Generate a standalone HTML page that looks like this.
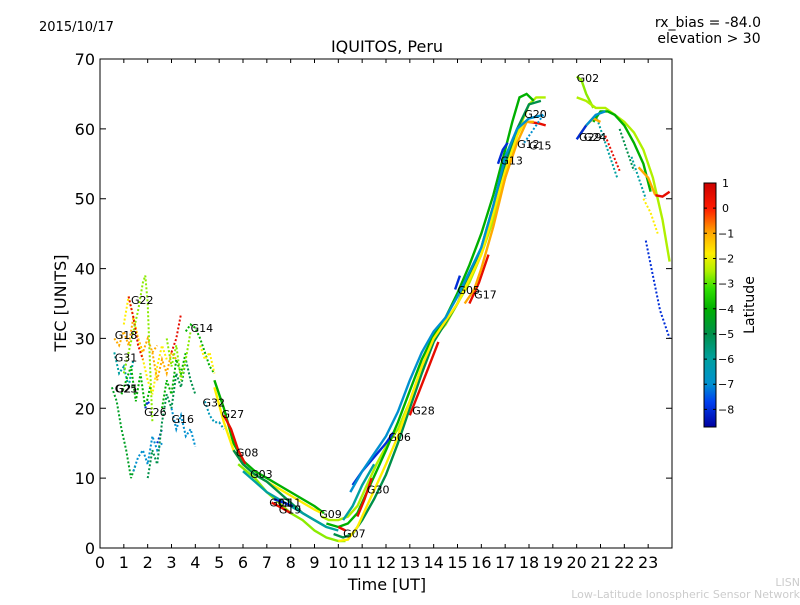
<!DOCTYPE html>
<html><head><meta charset="utf-8"><style>
body{margin:0;background:#fff;}
svg text{font-family:"DejaVu Sans","Liberation Sans",sans-serif;}
</style></head><body>
<svg width="800" height="600" xmlns="http://www.w3.org/2000/svg">
<defs><linearGradient id="jetg" x1="0" y1="0" x2="0" y2="1"></linearGradient></defs>
<text x="39" y="31" font-size="13">2015/10/17</text>
<text x="761" y="27" font-size="14" text-anchor="end">rx_bias = -84.0</text>
<text x="709" y="43" font-size="14" text-anchor="middle">elevation &gt; 30</text>
<text x="387" y="52" font-size="16" text-anchor="middle">IQUITOS, Peru</text>
<g id="plot"></g>
<rect x="100" y="59" width="572" height="489" fill="none" stroke="#000" stroke-width="1"/>
<g id="axes"></g>
<text x="387" y="590" font-size="16" text-anchor="middle">Time [UT]</text>
<text transform="translate(66,303) rotate(-90)" font-size="16" text-anchor="middle">TEC [UNITS]</text>
<rect x="704" y="183" width="12" height="244" fill="url(#jetg)" stroke="#000" stroke-width="1"/>
<g id="cbar"></g>
<text transform="translate(754,305) rotate(-90)" font-size="14" text-anchor="middle">Latitude</text>
<text x="800" y="586" font-size="11" fill="#ccc" text-anchor="end">LISN</text>
<text x="800" y="598" font-size="11" fill="#ccc" text-anchor="end">Low-Latitude Ionospheric Sensor Network</text>
</svg>
<script>
const xTicks=[0,1,2,3,4,5,6,7,8,9,10,11,12,13,14,15,16,17,18,19,20,21,22,23];
const yTicks=[0,10,20,30,40,50,60,70];
const cbarTicks=[1,0,-1,-2,-3,-4,-5,-6,-7,-8];
const trackLat=[-1,-1.8,0.5,-6,-4.5,-2.7,-4,-7,-8,-8,-5,-4,-1,0.5,-7,-2.7,-4,-1.8,-6.5,
 -4,-1.8,0.5,-5,-2.7,-6,0.5,-8,-2.5,-4,-5,-1.8,0.5,0.5,0.5,0.5,0.5,-1,-8,-8,-8,-7,-6,-7,
 -2.7,-6,-2.5,-4,-5,-6,-1,0.5,-8,-7,-1,0.5,-8,-1.8];
const trackNight=[1,1,1,1,1,1,1,1,1,1,1,1,1,1,1,1,1,1,1,
 0,0,0,0,0,0,0,0,0,0,0,0,0,0,0,0,0,0,0,0,0,0,0,1,
 0,1,0,0,1,1,0,1,0,0,0,0,1,1];
const trackT=[
[0.6,0.8,1.0,1.2,1.4,1.6,1.8,2.0,2.2,2.4],
[1.0,1.2,1.4,1.6,1.8,2.0,2.2,2.4,2.6,2.8],
[1.2,1.4,1.6,1.8],
[0.6,0.8,1.0,1.2,1.4],
[0.5,0.7,0.9,1.1,1.3,1.5],
[1.0,1.2,1.4,1.6,1.8,1.9,2.0,2.1,2.2],
[0.9,1.1,1.3,1.5,1.7,1.9,2.1],
[1.4,1.6,1.8,2.0,2.2,2.4,2.6],
[1.9,2.0,2.1],
[2.4,2.6],
[2.0,2.2,2.4,2.6,2.8,3.0,3.2,3.4,3.6,3.8,4.0],
[2.6,2.8,3.0,3.2,3.4,3.6],
[2.2,2.4,2.6,2.8,3.0,3.2],
[3.0,3.2,3.4],
[3.0,3.2,3.4,3.6,3.8,4.0],
[2.8,3.0,3.2,3.4,3.6,3.8],
[3.6,3.8,4.0,4.2,4.4,4.6,4.8],
[4.2,4.4,4.6,4.8],
[4.4,4.6,4.8,5.0,5.2],
[4.8,5.2,5.6,6.0,6.5,7.0,7.5,8.0,8.5,9.0,9.4],
[4.8,5.2,5.6,6.0,6.5,7,7.5,8,8.5,9,9.3],
[5.2,5.5,5.8,6.1],
[5.6,6,6.5,7,7.5,8,8.5,9,9.5],
[5.8,6.5,7,7.5,8,8.5,9,9.5,10,10.3],
[6,6.5,7,7.5,8,8.5,9,9.5,10],
[7.2,7.6,8.0],
[7.3,7.7,8.1],
[9.3,9.6,10,10.4,10.8,11.2,11.6,12,12.5,13,13.5,14,14.5,15,15.5,16,16.5,17,17.4,17.7,18,18.3,18.7],
[9.5,10,10.4,10.8,11.2,11.6,12,12.5,13,13.5,14,14.5,15,15.5,16,16.5,17,17.3,17.6,17.9,18.2],
[9.8,10.2,10.6,11,11.5,12,12.5,13,13.5,14,15,16,16.5,17,17.5,18,18.5],
[10,10.4,10.8,11.2,11.6,12,12.5,13,13.5,14,15,16,16.5,17,17.5,17.8,18.2],
[10.0,10.3],
[10.8,11.1,11.4],
[13,13.4,13.8,14.2],
[15.5,15.9,16.3],
[18,18.4,18.7],
[15.3,15.7,16,16.5,17,17.5,17.9,18.2],
[10.6,11,11.5,12,12.3],
[14.9,15.1],
[16.7,16.9,17.1],
[10.5,11,11.5,12,12.5,13,13.5,14,14.5,15,16,16.5,17,17.5,18,18.6],
[10.2,10.6,11,11.5],
[17.8,18.1,18.4,18.6],
[20,20.2,20.4,20.7],
[20.8,21.1,21.4,21.7],
[20,20.4,20.8,21.2,21.6,22,22.4,22.8,23.2,23.6,23.9],
[20.7,21,21.3,21.6,22,22.4,22.8,23.1],
[21.8,22.1,22.4],
[22.3,22.6,22.9],
[20.1,20.4,20.7,21.0],
[21.2,21.5,21.8],
[20,20.2,20.4],
[20.4,20.8,21.2],
[22.6,23,23.3],
[23.3,23.6,23.9],
[22.9,23.2,23.5,23.9],
[22.8,23.1,23.4]];
const trackV=[
[30,29,31,29,33,30,28,30,28,29],
[32,36,33,30,27,24,22,26,29,27],
[36,33,29,27],
[28,25,26,23,27],
[23,21,17,14,10,12],
[25,28,31,34,38,39,35,26,18],
[22,24,26,21,25,20,23],
[11,13,14,12,16,14,15],
[20,21,20.5],
[15,17],
[10,14,12,18,22,20,25,23,27,24,22],
[20,24,22,27,25,28],
[28,24,27,25,28,27],
[28,30,33.5],
[20,17,19,16,17,14.5],
[30,26,29,24,27,31],
[31,32,31.5,30,28,26,25],
[29,27,28,25],
[21,19,18,18,17],
[24,20,15,12.5,11,10,9,8,7,6,5],
[23,18,14,12,10.5,9.5,8.5,7.5,6.5,5.5,5],
[19,17,14,12],
[14,12,10.5,9.5,8,6.5,5,4,3],
[12,10,8,6.5,5,4,2.5,1.5,1,1],
[11,9.5,8,7,6,5,4,3,2.5],
[6.5,5.8,5],
[7,6.5,6],
[4.5,4,4,4.5,6,9,12,14.5,17,21,26,30,32,35,38,42,47,53,58,61,63.5,64.5,64.5],
[3.5,3,3.5,5,8,11,14,18,22.5,27,30.5,33,36.5,40.5,45,50.5,57,61,64.5,65,64],
[2,1.5,2,4,7,10.5,15,20,25,29.5,35,43,49,55,60,63.5,64],
[1,1.2,3,6,9,12,16,21,26,30,35,42,48,54,59,61,61],
[3,2.5],
[4.5,7,10],
[19,22.5,26,29.5],
[35,38,42],
[61,60.8,60.5],
[35,37,40,46,53,58,61,61],
[9,11,13,15,16.5],
[37,39],
[55,57,58],
[8,11,13.5,16,19.5,24,28,31,33,36,43,49,56,60,61.5,62],
[4,6,9,12],
[58,59.5,61,62],
[67.5,67,65,63],
[62,59,56,53],
[64.5,64,63,63,62,61,59.5,57,53,47,41],
[61,62.5,62.5,62,60.5,58,55,51],
[60,57,54],
[56,53,50],
[59,60.5,61.5,61],
[59,56.5,54],
[58.5,59.5,60.5],
[60.5,62,62.5],
[54.5,53,50.5],
[50.5,50.3,51],
[44,39,34,30],
[50,48,45]];
const labelNames=["G18","G22","G31","G25","G21","G26","G16","G14","G32","G27","G08","G03","G01","G11","G19","G09","G07","G30","G06","G28","G05","G17","G13","G12","G15","G20","G02","G29","G24"];
const labelT=[0.62,1.3,0.62,0.62,0.66,1.85,3.0,3.8,4.3,5.1,5.7,6.3,7.1,7.5,7.5,9.2,10.2,11.2,12.1,13.1,15.0,15.7,16.8,17.5,18.0,17.8,20.0,20.1,20.3];
const labelV=[30.5,35.5,27.3,22.8,22.8,19.5,18.5,31.5,20.8,19.2,13.7,10.6,6.5,6.5,5.5,4.9,2.1,8.4,15.9,19.7,36.9,36.3,55.5,57.8,57.6,62.1,67.3,58.8,58.8];
const X=t=>100+t*572/24, Y=v=>548-v*489/70;
const cmLat=[1,0,-1,-1.8,-2.5,-3.2,-4,-5,-6,-7,-7.7,-8.7];
const cmRGB=[[204,0,0],[255,26,0],[255,170,0],[255,238,0],[176,240,0],[48,224,0],[0,176,0],[0,144,74],[0,160,160],[0,144,208],[0,64,240],[0,0,160]];
const C=lat=>{let i=0;while(i<cmLat.length-2&&lat<cmLat[i+1])i++;
 let f=(cmLat[i]-lat)/(cmLat[i]-cmLat[i+1]);f=Math.max(0,Math.min(1,f));
 const c=cmRGB[i].map((a,k)=>Math.round(a+(cmRGB[i+1][k]-a)*f));return `rgb(${c})`;};
const NS="http://www.w3.org/2000/svg";
const grad=document.getElementById('jetg');
cmLat.forEach((l,i)=>{const s=document.createElementNS(NS,'stop');s.setAttribute('offset',(1-l)/9.7);s.setAttribute('stop-color',`rgb(${cmRGB[i]})`);grad.appendChild(s);});
const plot=document.getElementById('plot');
trackT.forEach((ts,i)=>{
 const p=document.createElementNS(NS,'polyline');
 p.setAttribute('points',ts.map((t,j)=>X(t).toFixed(1)+','+Y(trackV[i][j]).toFixed(1)).join(' '));
 p.setAttribute('fill','none');p.setAttribute('stroke',C(trackLat[i]));
 p.setAttribute('stroke-width',trackNight[i]?2:2.4);
 if(trackNight[i])p.setAttribute('stroke-dasharray','2 2');
 
 
 plot.appendChild(p);});
labelNames.forEach((n,i)=>{
 const t=document.createElementNS(NS,'text');
 t.setAttribute('x',X(labelT[i]));t.setAttribute('y',Y(labelV[i])+4);t.setAttribute('font-size','11');t.textContent=n;
 
 
 plot.appendChild(t);});
const ax=document.getElementById('axes');
xTicks.forEach(v=>{const x=X(v);
 const l=document.createElementNS(NS,'path');l.setAttribute('d',`M${x},548v-4M${x},59v4`);l.setAttribute('stroke','#000');
 
 
 ax.appendChild(l);
 const t=document.createElementNS(NS,'text');t.setAttribute('x',x);t.setAttribute('y',568);t.setAttribute('font-size','16');t.setAttribute('text-anchor','middle');t.textContent=v;
 
 
 ax.appendChild(t);});
yTicks.forEach(v=>{const y=Y(v);
 const l=document.createElementNS(NS,'path');l.setAttribute('d',`M100,${y}h6M672,${y}h-6`);l.setAttribute('stroke','#000');
 
 
 ax.appendChild(l);
 const t=document.createElementNS(NS,'text');t.setAttribute('x',95);t.setAttribute('y',y+6);t.setAttribute('font-size','16');t.setAttribute('text-anchor','end');t.textContent=v;
 
 
 ax.appendChild(t);});
const cb=document.getElementById('cbar');
cbarTicks.forEach(v=>{const y=183+(1-v)*244/9.7;
 const l=document.createElementNS(NS,'path');l.setAttribute('d',`M704,${y}h3M716,${y}h-3`);l.setAttribute('stroke','#000');
 
 
 cb.appendChild(l);
 const t=document.createElementNS(NS,'text');t.setAttribute('x',v<0?718:722);t.setAttribute('y',y+4);t.setAttribute('font-size','11');t.textContent=v<0?'\u2212'+(-v):v;
 
 
 cb.appendChild(t);});
</script>
</body></html>
